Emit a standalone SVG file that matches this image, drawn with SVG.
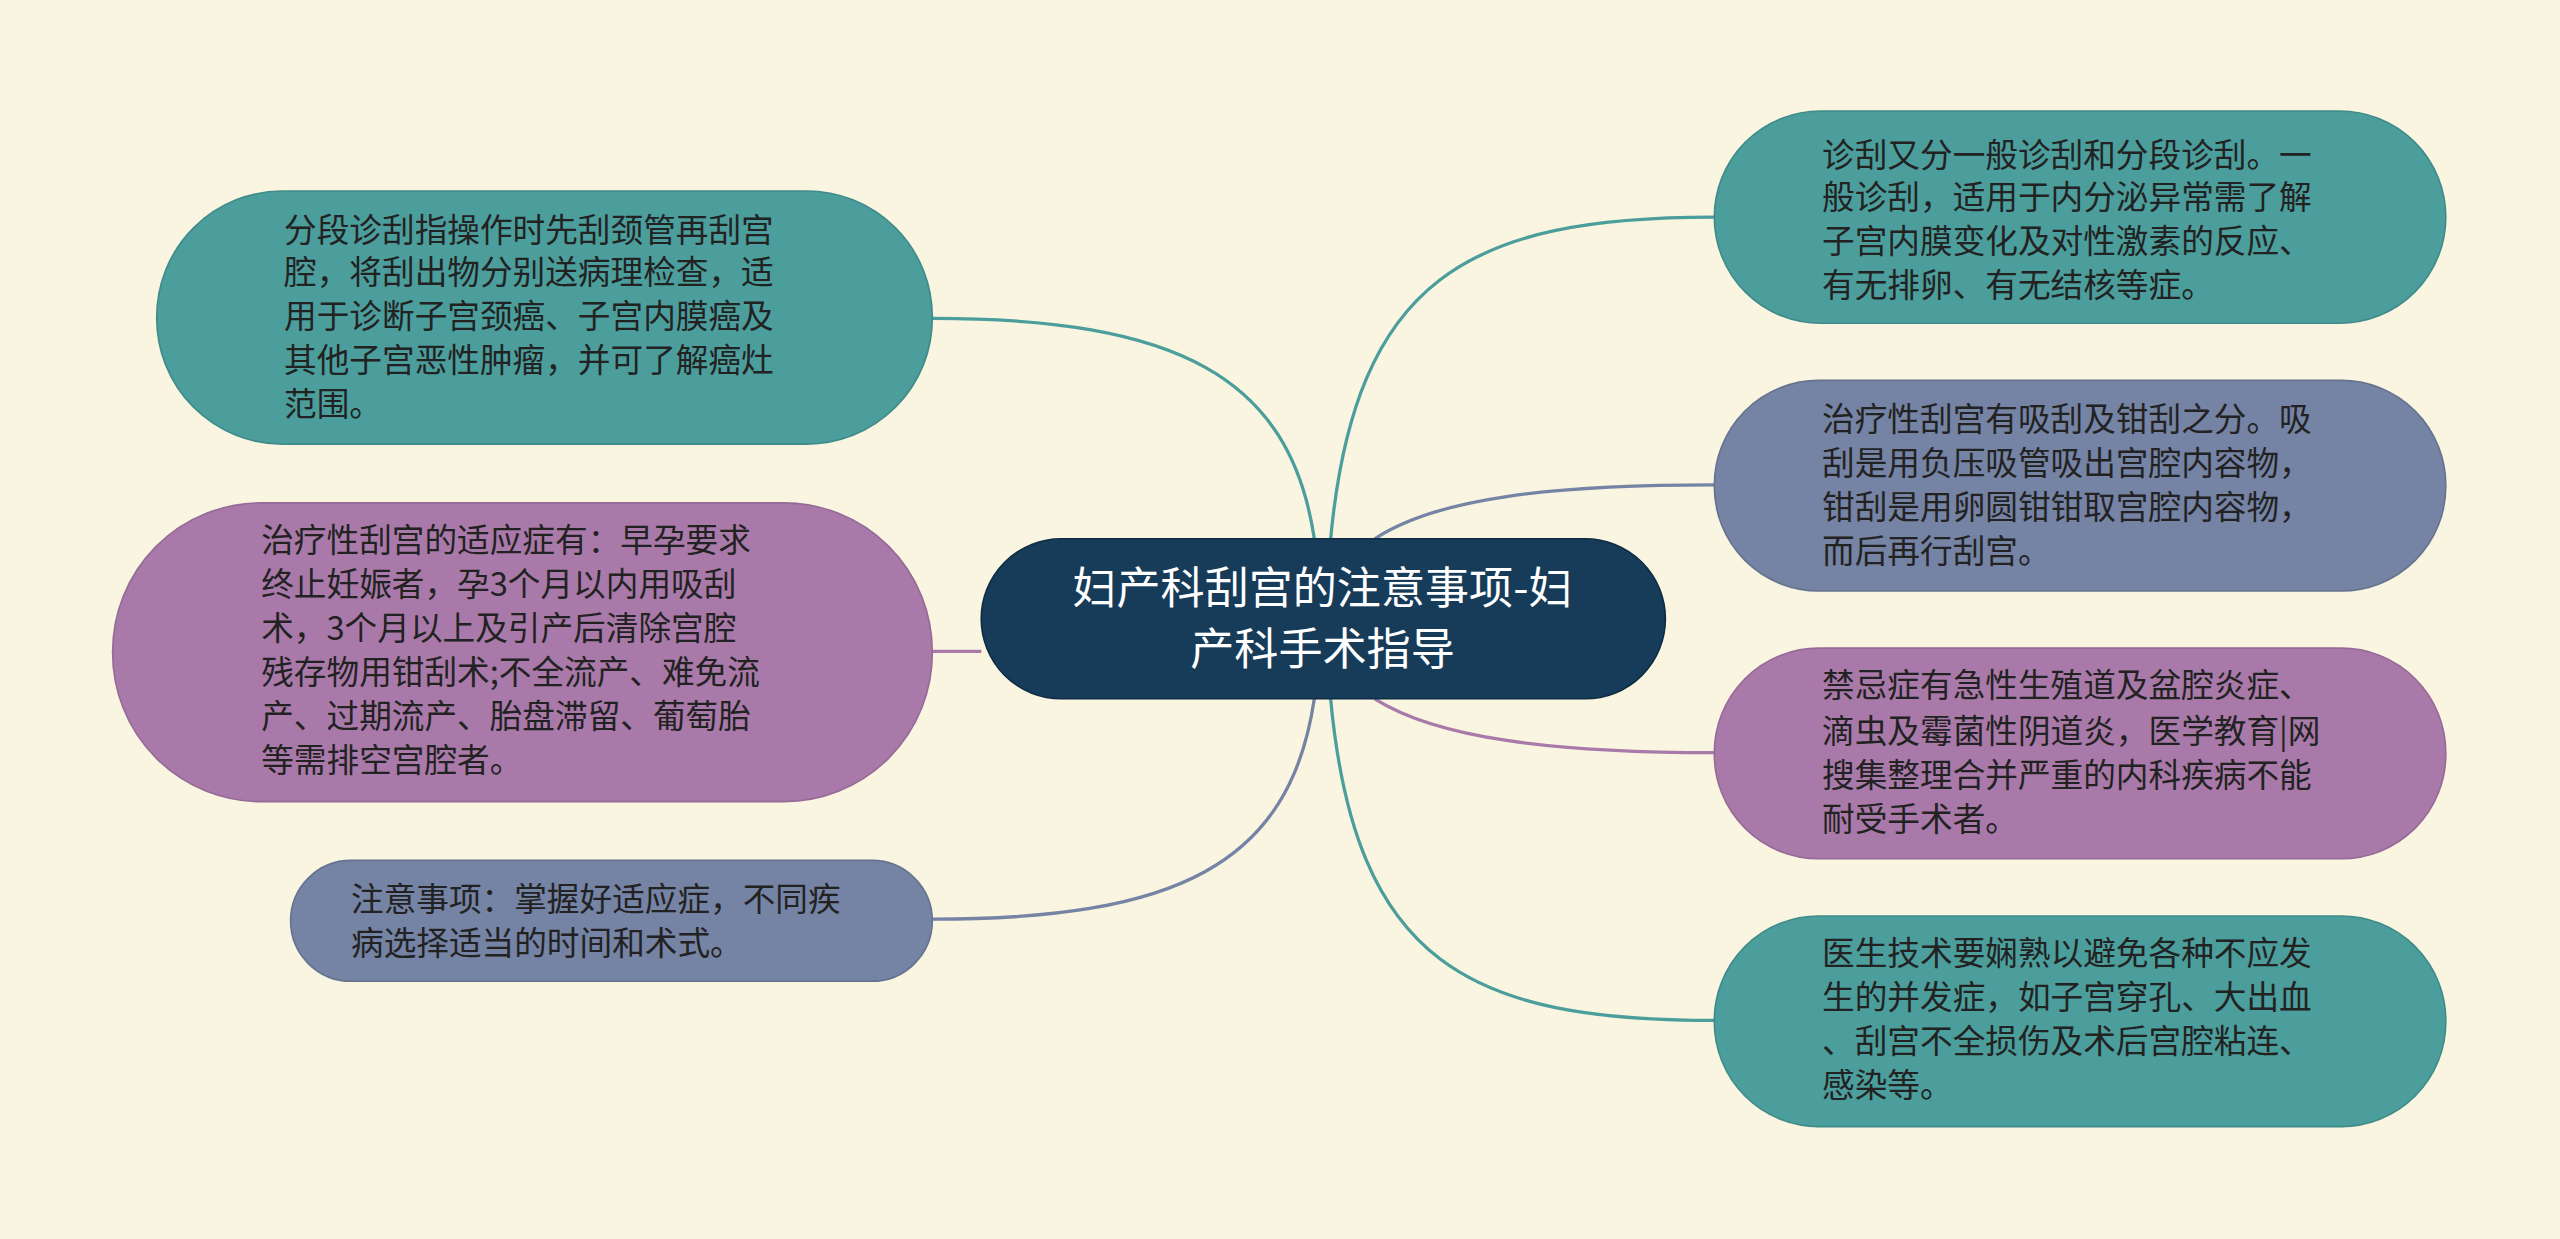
<svg xmlns="http://www.w3.org/2000/svg" width="2560" height="1239" viewBox="0 0 2560 1239">
<style>
.t{font-family:"Noto Sans CJK SC","Noto Sans",sans-serif;font-size:20px;fill:#222}
.c{font-family:"Noto Sans CJK SC","Noto Sans",sans-serif;font-size:27px;fill:#fff;text-anchor:middle}
.teal{fill:#4b9e9c;stroke:#3f8b89;stroke-width:1}
.slate{fill:#7583a4;stroke:#66738f;stroke-width:1}
.purp{fill:#a97aa9;stroke:#966996;stroke-width:1}
.l{fill:none;stroke-width:2}
</style>
<rect width="2560" height="1239" fill="#f9f5e0"/>
<g transform="scale(1.6327)">
<g id="connectors">
<path class="l" stroke="#4b9e9c" d="M815,330 C830,170 900,133 1050,133"/>
<path class="l" stroke="#7583a4" d="M842,330 C880,305 950,297 1050,297"/>
<path class="l" stroke="#a97aa9" d="M842,428 C880,452 950,461 1050,461"/>
<path class="l" stroke="#4b9e9c" d="M815,428 C830,590 900,625 1050,625"/>
<path class="l" stroke="#4b9e9c" d="M805,330 C790,230 720,195 571,195"/>
<path class="l" stroke="#a97aa9" d="M601,399 L571,399"/>
<path class="l" stroke="#7583a4" d="M805,428 C790,530 720,563 571,563"/>
</g>
<g id="center">
<rect x="601" y="330" width="419" height="98" rx="49" fill="#173c5a" stroke="#0f2c44"/>
<text class="c" x="810" y="370">妇产科刮宫的注意事项-妇</text>
<text class="c" x="810" y="407">产科手术指导</text>
</g>
<g id="r1">
<rect class="teal" x="1050" y="68" width="448" height="130" rx="65"/>
<text class="t" x="1116" y="102">诊刮又分一般诊刮和分段诊刮。一</text>
<text class="t" x="1116" y="128">般诊刮，适用于内分泌异常需了解</text>
<text class="t" x="1116" y="155">子宫内膜变化及对性激素的反应、</text>
<text class="t" x="1116" y="182">有无排卵、有无结核等症。</text>
</g>
<g id="r2">
<rect class="slate" x="1050" y="233" width="448" height="129" rx="64"/>
<text class="t" x="1116" y="264">治疗性刮宫有吸刮及钳刮之分。吸</text>
<text class="t" x="1116" y="291">刮是用负压吸管吸出宫腔内容物，</text>
<text class="t" x="1116" y="318">钳刮是用卵圆钳钳取宫腔内容物，</text>
<text class="t" x="1116" y="345">而后再行刮宫。</text>
</g>
<g id="r3">
<rect class="purp" x="1050" y="397" width="448" height="129" rx="64"/>
<text class="t" x="1116" y="427">禁忌症有急性生殖道及盆腔炎症、</text>
<text class="t" x="1116" y="455">滴虫及霉菌性阴道炎，医学教育|网</text>
<text class="t" x="1116" y="482">搜集整理合并严重的内科疾病不能</text>
<text class="t" x="1116" y="509">耐受手术者。</text>
</g>
<g id="r4">
<rect class="teal" x="1050" y="561" width="448" height="129" rx="64"/>
<text class="t" x="1116" y="591">医生技术要娴熟以避免各种不应发</text>
<text class="t" x="1116" y="618">生的并发症，如子宫穿孔、大出血</text>
<text class="t" x="1116" y="645">、刮宫不全损伤及术后宫腔粘连、</text>
<text class="t" x="1116" y="672">感染等。</text>
</g>
<g id="l1">
<rect class="teal" x="96" y="117" width="475" height="155" rx="77"/>
<text class="t" x="174" y="148">分段诊刮指操作时先刮颈管再刮宫</text>
<text class="t" x="174" y="174">腔，将刮出物分别送病理检查，适</text>
<text class="t" x="174" y="201">用于诊断子宫颈癌、子宫内膜癌及</text>
<text class="t" x="174" y="228">其他子宫恶性肿瘤，并可了解癌灶</text>
<text class="t" x="174" y="255">范围。</text>
</g>
<g id="l2">
<rect class="purp" x="69" y="308" width="502" height="183" rx="91"/>
<text class="t" x="160" y="338">治疗性刮宫的适应症有：早孕要求</text>
<text class="t" x="160" y="365">终止妊娠者，孕3个月以内用吸刮</text>
<text class="t" x="160" y="392">术，3个月以上及引产后清除宫腔</text>
<text class="t" x="160" y="419">残存物用钳刮术;不全流产、难免流</text>
<text class="t" x="160" y="446">产、过期流产、胎盘滞留、葡萄胎</text>
<text class="t" x="160" y="473">等需排空宫腔者。</text>
</g>
<g id="l3">
<rect class="slate" x="178" y="527" width="393" height="74" rx="37"/>
<text class="t" x="215" y="558">注意事项：掌握好适应症，不同疾</text>
<text class="t" x="215" y="585">病选择适当的时间和术式。</text>
</g>
</g>
</svg>
